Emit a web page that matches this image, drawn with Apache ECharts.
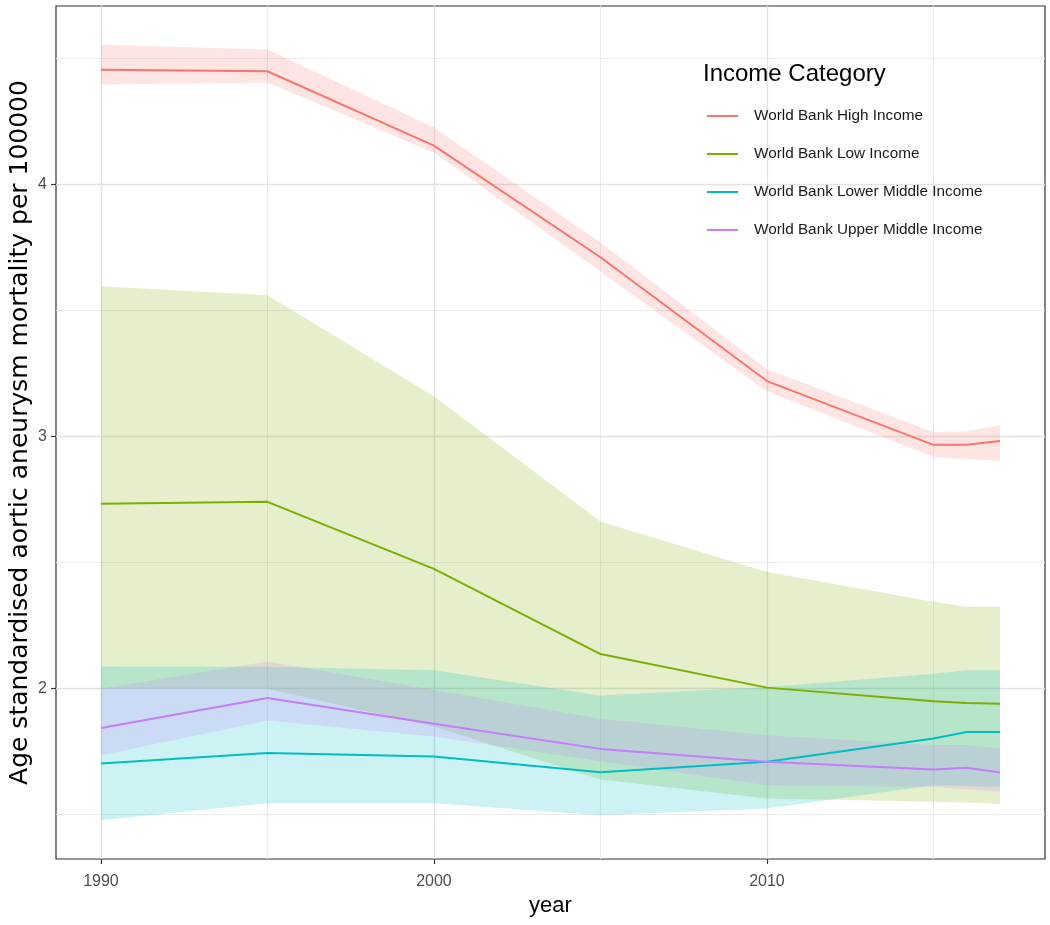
<!DOCTYPE html>
<html>
<head>
<meta charset="utf-8">
<script src="https://cdn.jsdelivr.net/npm/echarts@6/dist/echarts.min.js"></script>
<style>
html,body{margin:0;padding:0;background:#fff;}
#chart{width:1050px;height:925px;}
</style>
</head>
<body>
<div id="chart"></div>
<script>
// ---- data ----
const years = [1990, 1995, 2000, 2005, 2010, 2015, 2016, 2017];
const categories = ['World Bank High Income', 'World Bank Low Income', 'World Bank Lower Middle Income', 'World Bank Upper Middle Income'];

const highMean  = [4.455, 4.449, 4.154, 3.711, 3.220, 2.967, 2.967, 2.982];
const highLower = [4.396, 4.404, 4.127, 3.655, 3.180, 2.919, 2.911, 2.903];
const highUpper = [4.554, 4.535, 4.226, 3.770, 3.267, 3.018, 3.020, 3.046];

const lowMean  = [2.733, 2.741, 2.475, 2.137, 2.004, 1.950, 1.943, 1.940];
const lowLower = [2.000, 2.000, 1.850, 1.640, 1.564, 1.551, 1.548, 1.542];
const lowUpper = [3.596, 3.560, 3.160, 2.663, 2.463, 2.345, 2.325, 2.325];

const lmMean  = [1.703, 1.745, 1.731, 1.668, 1.710, 1.802, 1.828, 1.828];
const lmLower = [1.478, 1.545, 1.545, 1.498, 1.525, 1.617, 1.614, 1.610];
const lmUpper = [2.088, 2.087, 2.073, 1.973, 2.006, 2.059, 2.073, 2.073];

const umMean  = [1.844, 1.963, 1.861, 1.761, 1.710, 1.679, 1.686, 1.667];
const umLower = [1.736, 1.874, 1.810, 1.712, 1.617, 1.610, 1.600, 1.592];
const umUpper = [2.000, 2.108, 1.995, 1.881, 1.815, 1.776, 1.776, 1.762];

const xTicks = [1990, 2000, 2010];
const xMinorTicks = [1995, 2005, 2015];
const yTicks = [2, 3, 4];
const yMinorTicks = [1.5, 2.5, 3.5, 4.5];

const colors = ['#F8766D', '#7CAE00', '#00BFC4', '#C77CFF'];
const means = [highMean, lowMean, lmMean, umMean];
const lowers = [highLower, lowLower, lmLower, umLower];
const uppers = [highUpper, lowUpper, lmUpper, umUpper];

// ggplot-like expanded limits (5%)
const xMin = 1990 - 0.05 * (2017 - 1990), xMax = 2017 + 0.05 * (2017 - 1990);
const yDataMin = 1.478, yDataMax = 4.554;
const yPad = 0.05 * (yDataMax - yDataMin);
const yMin = yDataMin - yPad, yMax = yDataMax + yPad;

const FONT = '"Liberation Sans", Arial, Helvetica, sans-serif';

const series = [];
// grid lines (drawn under everything)
series.push({
  type: 'line', name: '_grid', data: [[years[0], lowMean[0]]], z: 1, silent: true,
  symbol: 'none', lineStyle: { opacity: 0 }, animation: false,
  markLine: {
    z: 1, silent: true, symbol: 'none', animation: false, label: { show: false },
    data: [
      ...xMinorTicks.map(v => ({ xAxis: v, lineStyle: { color: '#ececec', width: 1, type: 'solid' } })),
      ...yMinorTicks.map(v => ({ yAxis: v, lineStyle: { color: '#ececec', width: 1, type: 'solid' } })),
      ...xTicks.map(v => ({ xAxis: v, lineStyle: { color: '#e3e3e3', width: 1.4, type: 'solid' } })),
      ...yTicks.map(v => ({ yAxis: v, lineStyle: { color: '#e3e3e3', width: 1.4, type: 'solid' } }))
    ]
  }
});
// ribbons as polygons through the axis scales
categories.forEach((c, k) => {
  series.push({
    type: 'custom', name: '_band' + k, z: 2, silent: true, clip: true,
    data: years.map((y, i) => [y, lowers[k][i], uppers[k][i]]),
    encode: { x: 0, y: [1, 2] },
    renderItem: function (params, api) {
      if (params.dataIndex !== 0) return null;
      const pts = [];
      for (let i = 0; i < years.length; i++) pts.push(api.coord([years[i], uppers[k][i]]));
      for (let i = years.length - 1; i >= 0; i--) pts.push(api.coord([years[i], lowers[k][i]]));
      return {
        type: 'polygon',
        shape: { points: pts },
        style: { fill: colors[k], opacity: 0.2, stroke: null }
      };
    }
  });
});
// lines
categories.forEach((c, k) => {
  series.push({
    type: 'line', name: c, z: 3,
    data: years.map((y, i) => [y, means[k][i]]),
    symbol: 'none', color: colors[k],
    lineStyle: { color: colors[k], width: 2 }
  });
});

const chart = echarts.init(document.getElementById('chart'), null, { renderer: 'canvas' });
chart.setOption({
  animation: false,
  backgroundColor: '#ffffff',
  title: {
    text: 'Income Category', left: 703, top: 62, padding: 0,
    textStyle: { fontFamily: FONT, fontSize: 24, fontWeight: 'normal', color: '#000' }
  },
  legend: {
    data: categories, orient: 'vertical', left: 707, top: 108, padding: 0,
    icon: 'rect', itemWidth: 31, itemHeight: 2, itemGap: 22,
    selectedMode: false,
    textStyle: { fontFamily: FONT, fontSize: 15.3, color: '#1a1a1a', lineHeight: 16, padding: [0, 0, 0, 11] }
  },
  grid: {
    left: 56, right: 5, top: 6, bottom: 66, show: true,
    containLabel: false, outerBoundsMode: 'none',
    borderColor: '#333333', borderWidth: 1.2, backgroundColor: 'transparent'
  },
  xAxis: {
    type: 'value', min: xMin, max: xMax,
    name: 'year', nameLocation: 'middle', nameGap: 36, nameMoveOverlap: false,
    nameTextStyle: { fontFamily: FONT, fontSize: 22, color: '#000' },
    axisLine: { show: false },
    axisTick: { show: true, length: 5, customValues: xTicks, lineStyle: { color: '#333', width: 1.2 } },
    axisLabel: { customValues: xTicks, margin: 15, fontFamily: FONT, fontSize: 16, color: '#4d4d4d', formatter: v => String(v) },
    splitLine: { show: false }
  },
  yAxis: {
    type: 'value', min: yMin, max: yMax,
    name: 'Age standardised aortic aneurysm mortality per 100000',
    nameLocation: 'middle', nameGap: 23, nameRotate: 90, nameMoveOverlap: false,
    nameTextStyle: { fontFamily: '"DejaVu Sans", sans-serif', fontSize: 25, color: '#000' },
    axisLine: { show: false },
    axisTick: { show: true, length: 5, customValues: yTicks, lineStyle: { color: '#333', width: 1.2 } },
    axisLabel: { customValues: yTicks, margin: 9, fontFamily: FONT, fontSize: 16, color: '#4d4d4d', formatter: v => String(v) },
    splitLine: { show: false }
  },
  series: series
});
</script>
</body>
</html>
